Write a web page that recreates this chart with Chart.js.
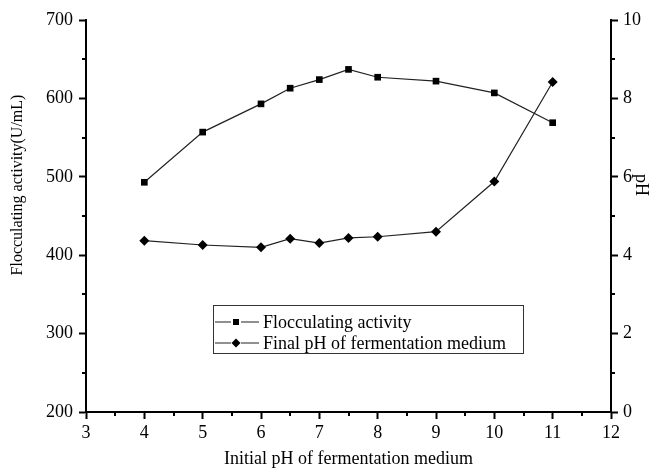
<!DOCTYPE html>
<html lang="en">
<head>
<meta charset="UTF-8">
<title>Flocculating activity vs initial pH</title>
<script src="https://cdn.jsdelivr.net/npm/chart.js"></script>
<style>
    html, body {
        margin: 0;
        padding: 0;
        background: #fff;
    }
    .container {
        width: 649px;
        height: 469px;
    }
</style>
</head>
<body>
<div class="container">
    <canvas id="grafica" width="649" height="469"></canvas>
</div>

<script>
    // data
    const initialPH = [4, 5, 6, 6.5, 7, 7.5, 8, 9, 10, 11];
    const flocActivity = [493, 557, 593, 613, 624, 637, 627, 622, 607, 569];
    const finalPH = [4.37, 4.26, 4.20, 4.42, 4.31, 4.44, 4.47, 4.60, 5.88, 8.42];

    const xTitle = 'Initial pH of fermentation medium';
    const yTitle = 'Flocculating activity(U/mL)';
    const y1Title = 'pH';
    const seriesLabels = ['Flocculating activity', 'Final pH of fermentation medium'];

    const FONT = '"Liberation Serif", "Times New Roman", serif';

    function toPoints(xs, ys) {
        return xs.map((v, i) => ({ x: v, y: ys[i] }));
    }

    // minor ticks, rotated titles and boxed legend
    const decor = {
        id: 'decor',
        afterDraw(chart) {
            const ctx = chart.ctx;
            const { x, y, y1 } = chart.scales;
            const area = chart.chartArea;
            ctx.save();
            ctx.strokeStyle = '#000';
            ctx.lineWidth = 2;
            ctx.beginPath();
            for (let v = x.min + 0.5; v < x.max; v += 1) {
                const p = Math.round(x.getPixelForValue(v));
                ctx.moveTo(p, area.bottom);
                ctx.lineTo(p, area.bottom + 4);
            }
            for (let v = y.min + 50; v < y.max; v += 100) {
                const p = Math.round(y.getPixelForValue(v));
                ctx.moveTo(area.left, p);
                ctx.lineTo(area.left - 4, p);
            }
            for (let v = y1.min + 1; v < y1.max; v += 2) {
                const p = Math.round(y1.getPixelForValue(v));
                ctx.moveTo(area.right, p);
                ctx.lineTo(area.right + 4, p);
            }
            ctx.stroke();

            // vertical axis titles
            const cy = (area.top + area.bottom) / 2 - 31;
            ctx.fillStyle = '#000';
            ctx.textAlign = 'center';
            ctx.textBaseline = 'middle';
            ctx.save();
            ctx.font = '16px ' + FONT;
            ctx.translate(18, cy);
            ctx.rotate(-Math.PI / 2);
            ctx.fillText(yTitle, 0, 0);
            ctx.restore();
            ctx.save();
            ctx.font = '18px ' + FONT;
            ctx.translate(641, cy);
            ctx.rotate(Math.PI / 2);
            ctx.fillText(y1Title, 0, 0);
            ctx.restore();

            // legend box
            const lg = { left: 213, top: 305, width: 310, height: 48 };
            ctx.font = '18px ' + FONT;
            ctx.lineWidth = 1;
            ctx.strokeStyle = '#333';
            ctx.strokeRect(lg.left + 0.5, lg.top + 0.5, lg.width, lg.height);
            ctx.textAlign = 'left';
            chart.data.datasets.forEach((ds, i) => {
                const ry = lg.top + 17 + i * 21;
                const mx = lg.left + 23;
                ctx.strokeStyle = '#222';
                ctx.lineWidth = 1.2;
                ctx.beginPath();
                ctx.moveTo(lg.left + 2, ry);
                ctx.lineTo(mx - 5, ry);
                ctx.moveTo(mx + 5, ry);
                ctx.lineTo(mx + 23, ry);
                ctx.stroke();
                ctx.fillStyle = '#000';
                if (ds.pointStyle === 'rect') {
                    ctx.fillRect(mx - 3, ry - 3, 6, 6);
                } else {
                    ctx.beginPath();
                    ctx.moveTo(mx, ry - 4.5);
                    ctx.lineTo(mx + 4.5, ry);
                    ctx.lineTo(mx, ry + 4.5);
                    ctx.lineTo(mx - 4.5, ry);
                    ctx.closePath();
                    ctx.fill();
                }
                ctx.fillText(ds.label, lg.left + 50, ry + 1);
            });
            ctx.restore();
        }
    };

    const tickFont = { family: FONT, size: 18 };

    new Chart(document.getElementById('grafica').getContext('2d'), {
        type: 'line',
        data: {
            datasets: [{
                label: seriesLabels[0],
                data: toPoints(initialPH, flocActivity),
                yAxisID: 'y',
                borderColor: '#222',
                borderWidth: 1.2,
                pointStyle: 'rect',
                pointRadius: 4.7,
                pointBackgroundColor: '#000',
                pointBorderColor: '#000',
                pointBorderWidth: 0,
                tension: 0
            }, {
                label: seriesLabels[1],
                data: toPoints(initialPH, finalPH),
                yAxisID: 'y1',
                borderColor: '#222',
                borderWidth: 1.2,
                pointStyle: 'rectRot',
                pointRadius: 5,
                pointBackgroundColor: '#000',
                pointBorderColor: '#000',
                pointBorderWidth: 0,
                tension: 0
            }]
        },
        options: {
            responsive: false,
            animation: false,
            devicePixelRatio: 1,
            layout: { padding: { top: 20, left: 0, right: 0, bottom: 0 } },
            scales: {
                x: {
                    type: 'linear',
                    min: 3,
                    max: 12,
                    ticks: { stepSize: 1, color: '#000', font: tickFont, padding: 3, maxRotation: 0 },
                    grid: { drawOnChartArea: false, tickLength: 7, tickWidth: 2, tickColor: '#000' },
                    border: { color: '#000', width: 2 },
                    title: {
                        display: true,
                        text: xTitle,
                        color: '#000',
                        font: { family: FONT, size: 18, lineHeight: 1.05 },
                        padding: { top: 0, bottom: 0 }
                    },
                    afterFit: s => { s.height = 57; }
                },
                y: {
                    position: 'left',
                    min: 200,
                    max: 700,
                    ticks: { stepSize: 100, color: '#000', font: tickFont, padding: 6 },
                    grid: { drawOnChartArea: false, tickLength: 7, tickWidth: 2, tickColor: '#000' },
                    border: { color: '#000', width: 2 },
                    afterFit: s => { s.width = 86; }
                },
                y1: {
                    position: 'right',
                    min: 0,
                    max: 10,
                    ticks: { stepSize: 2, color: '#000', font: tickFont, padding: 5 },
                    grid: { drawOnChartArea: false, tickLength: 7, tickWidth: 2, tickColor: '#000' },
                    border: { color: '#000', width: 2 },
                    afterFit: s => { s.width = 38; }
                }
            },
            plugins: {
                legend: { display: false },
                tooltip: { enabled: false }
            }
        },
        plugins: [decor]
    });
</script>
</body>
</html>
